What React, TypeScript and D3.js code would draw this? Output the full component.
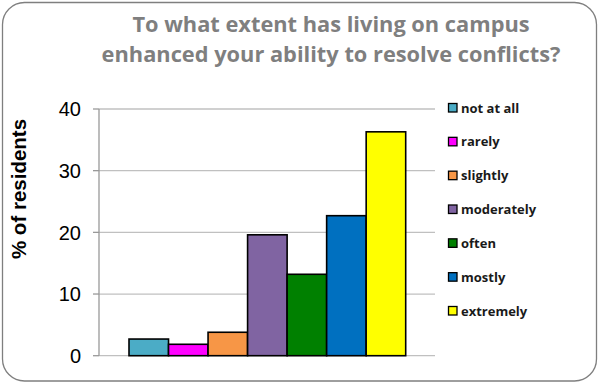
import React from "react";
import * as d3 from "d3";

const categories = ["not at all", "rarely", "slightly", "moderately", "often", "mostly", "extremely"];
const values = [2.7, 1.85, 3.8, 19.6, 13.2, 22.7, 36.3];
const colors = ["#4BACC6", "#FF00FF", "#F79646", "#8064A2", "#008000", "#0070C0", "#FFFF00"];
const yTicks = [0, 10, 20, 30, 40];
const titleLines = ["To what extent has living on campus", "enhanced your ability to resolve conflicts?"];

export default function App() {
  const W = 602, H = 383;
  const plotL = 99, plotR = 435, plotT = 109, plotB = 355.7;
  const y = d3.scaleLinear().domain([0, 40]).range([plotB, plotT]);
  const x = d3.scaleBand<string>().domain(categories).range([129, 405.7]).padding(0);
  const legendY = d3.scalePoint<string>().domain(categories).range([108, 311]);

  return (
    <svg width={W} height={H} style={{ position: "absolute", left: 0, top: 0 }}>
      <rect x={0} y={0} width={W} height={H} fill="#fff" />
      <rect x={2.5} y={2.5} width={594} height={378.5} rx={22} ry={22} fill="#fff" stroke="#7f7f7f" strokeWidth={1.3} />
      {titleLines.map((t, i) => (
        <text key={i} x={331} y={32 + i * 29.5} textAnchor="middle" fontFamily="Open Sans, sans-serif" fontWeight={700} fontSize={21.8} fill="#7f7f7f">{t}</text>
      ))}
      {yTicks.map((t) => (
        <g key={t}>
          <line x1={plotL} x2={plotR} y1={y(t)} y2={y(t)} stroke="#c0c0c0" strokeWidth={1.3} />
          <line x1={93} x2={plotL} y1={y(t)} y2={y(t)} stroke="#999" strokeWidth={1.3} />
          <text x={81} y={y(t)} dy="0.36em" textAnchor="end" fontFamily="Liberation Sans, Arial, sans-serif" fontSize={20} fill="#000">{t}</text>
        </g>
      ))}
      <line x1={plotL} x2={plotL} y1={plotT} y2={plotB} stroke="#999" strokeWidth={1.3} />
      <text transform={`translate(25.5,${189}) rotate(-90)`} textAnchor="middle" fontFamily="Liberation Sans, Arial, sans-serif" fontWeight={700} fontSize={20.5} fill="#000">% of residents</text>
      {categories.map((c, i) => (
        <rect key={c} x={x(c)} y={y(values[i])} width={x.bandwidth()} height={plotB - y(values[i])} fill={colors[i]} stroke="#000" strokeWidth={1.6} />
      ))}
      {categories.map((c, i) => (
        <g key={c}>
          <rect x={448.5} y={legendY(c)! - 4.5} width={8.5} height={8.5} fill={colors[i]} stroke="#000" strokeWidth={1.3} />
          <text x={461} y={legendY(c)!} dy="0.35em" fontFamily="Open Sans, sans-serif" fontWeight={700} fontSize={13} fill="#1a1a1a">{c}</text>
        </g>
      ))}
    </svg>
  );
}
